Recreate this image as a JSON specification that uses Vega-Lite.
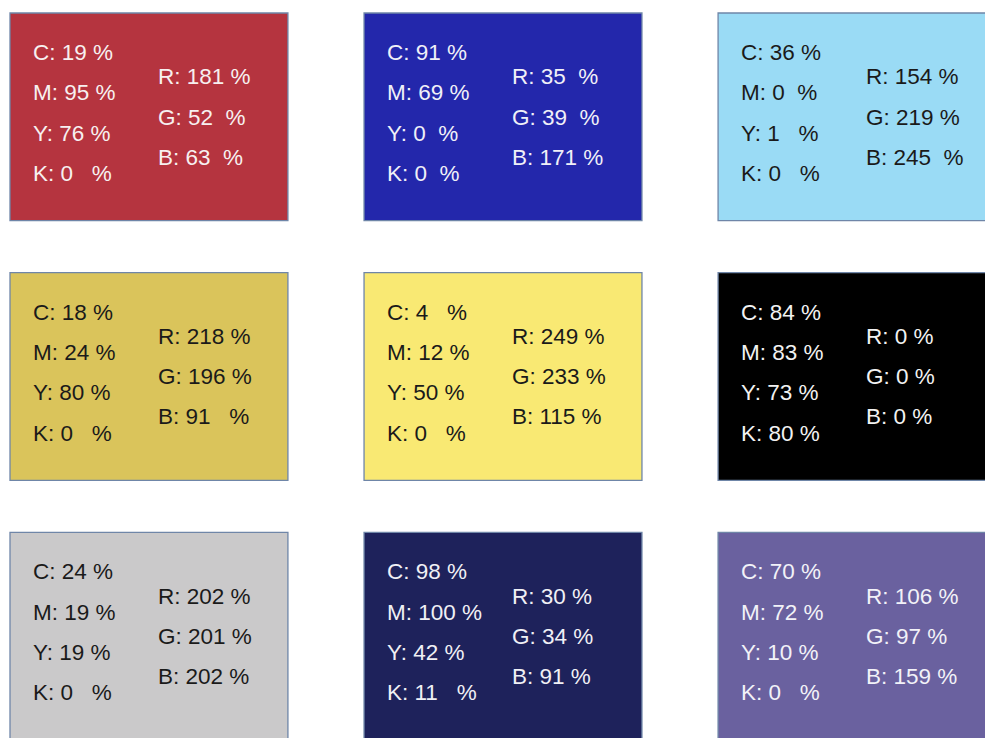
{
  "$schema": "https://vega.github.io/schema/vega-lite/v6.json",
  "width": 985,
  "height": 738,
  "padding": 0,
  "autosize": {"type": "none"},
  "background": "white",
  "config": {"view": {"stroke": null}},
  "datasets": {
    "boxes": [
      {"box": "Red", "col": 1, "row": 1},
      {"box": "Blue", "col": 2, "row": 1},
      {"box": "Light blue", "col": 3, "row": 1},
      {"box": "Gold", "col": 1, "row": 2},
      {"box": "Yellow", "col": 2, "row": 2},
      {"box": "Black", "col": 3, "row": 2},
      {"box": "Gray", "col": 1, "row": 3},
      {"box": "Navy", "col": 2, "row": 3},
      {"box": "Purple", "col": 3, "row": 3}
    ],
    "lines": [
      {"box": "Red", "col": 1, "row": 1, "model": "CMYK", "channel": "C", "label": "C: 19 %"},
      {"box": "Red", "col": 1, "row": 1, "model": "CMYK", "channel": "M", "label": "M: 95 %"},
      {"box": "Red", "col": 1, "row": 1, "model": "CMYK", "channel": "Y", "label": "Y: 76 %"},
      {"box": "Red", "col": 1, "row": 1, "model": "CMYK", "channel": "K", "label": "K: 0 \u00a0 %"},
      {"box": "Red", "col": 1, "row": 1, "model": "RGB", "channel": "R", "label": "R: 181 %"},
      {"box": "Red", "col": 1, "row": 1, "model": "RGB", "channel": "G", "label": "G: 52 \u00a0%"},
      {"box": "Red", "col": 1, "row": 1, "model": "RGB", "channel": "B", "label": "B: 63 \u00a0%"},

      {"box": "Blue", "col": 2, "row": 1, "model": "CMYK", "channel": "C", "label": "C: 91 %"},
      {"box": "Blue", "col": 2, "row": 1, "model": "CMYK", "channel": "M", "label": "M: 69 %"},
      {"box": "Blue", "col": 2, "row": 1, "model": "CMYK", "channel": "Y", "label": "Y: 0 \u00a0%"},
      {"box": "Blue", "col": 2, "row": 1, "model": "CMYK", "channel": "K", "label": "K: 0 \u00a0%"},
      {"box": "Blue", "col": 2, "row": 1, "model": "RGB", "channel": "R", "label": "R: 35 \u00a0%"},
      {"box": "Blue", "col": 2, "row": 1, "model": "RGB", "channel": "G", "label": "G: 39 \u00a0%"},
      {"box": "Blue", "col": 2, "row": 1, "model": "RGB", "channel": "B", "label": "B: 171 %"},

      {"box": "Light blue", "col": 3, "row": 1, "model": "CMYK", "channel": "C", "label": "C: 36 %"},
      {"box": "Light blue", "col": 3, "row": 1, "model": "CMYK", "channel": "M", "label": "M: 0 \u00a0%"},
      {"box": "Light blue", "col": 3, "row": 1, "model": "CMYK", "channel": "Y", "label": "Y: 1 \u00a0 %"},
      {"box": "Light blue", "col": 3, "row": 1, "model": "CMYK", "channel": "K", "label": "K: 0 \u00a0 %"},
      {"box": "Light blue", "col": 3, "row": 1, "model": "RGB", "channel": "R", "label": "R: 154 %"},
      {"box": "Light blue", "col": 3, "row": 1, "model": "RGB", "channel": "G", "label": "G: 219 %"},
      {"box": "Light blue", "col": 3, "row": 1, "model": "RGB", "channel": "B", "label": "B: 245 \u00a0%"},

      {"box": "Gold", "col": 1, "row": 2, "model": "CMYK", "channel": "C", "label": "C: 18 %"},
      {"box": "Gold", "col": 1, "row": 2, "model": "CMYK", "channel": "M", "label": "M: 24 %"},
      {"box": "Gold", "col": 1, "row": 2, "model": "CMYK", "channel": "Y", "label": "Y: 80 %"},
      {"box": "Gold", "col": 1, "row": 2, "model": "CMYK", "channel": "K", "label": "K: 0 \u00a0 %"},
      {"box": "Gold", "col": 1, "row": 2, "model": "RGB", "channel": "R", "label": "R: 218 %"},
      {"box": "Gold", "col": 1, "row": 2, "model": "RGB", "channel": "G", "label": "G: 196 %"},
      {"box": "Gold", "col": 1, "row": 2, "model": "RGB", "channel": "B", "label": "B: 91 \u00a0 %"},

      {"box": "Yellow", "col": 2, "row": 2, "model": "CMYK", "channel": "C", "label": "C: 4 \u00a0 %"},
      {"box": "Yellow", "col": 2, "row": 2, "model": "CMYK", "channel": "M", "label": "M: 12 %"},
      {"box": "Yellow", "col": 2, "row": 2, "model": "CMYK", "channel": "Y", "label": "Y: 50 %"},
      {"box": "Yellow", "col": 2, "row": 2, "model": "CMYK", "channel": "K", "label": "K: 0 \u00a0 %"},
      {"box": "Yellow", "col": 2, "row": 2, "model": "RGB", "channel": "R", "label": "R: 249 %"},
      {"box": "Yellow", "col": 2, "row": 2, "model": "RGB", "channel": "G", "label": "G: 233 %"},
      {"box": "Yellow", "col": 2, "row": 2, "model": "RGB", "channel": "B", "label": "B: 115 %"},

      {"box": "Black", "col": 3, "row": 2, "model": "CMYK", "channel": "C", "label": "C: 84 %"},
      {"box": "Black", "col": 3, "row": 2, "model": "CMYK", "channel": "M", "label": "M: 83 %"},
      {"box": "Black", "col": 3, "row": 2, "model": "CMYK", "channel": "Y", "label": "Y: 73 %"},
      {"box": "Black", "col": 3, "row": 2, "model": "CMYK", "channel": "K", "label": "K: 80 %"},
      {"box": "Black", "col": 3, "row": 2, "model": "RGB", "channel": "R", "label": "R: 0 %"},
      {"box": "Black", "col": 3, "row": 2, "model": "RGB", "channel": "G", "label": "G: 0 %"},
      {"box": "Black", "col": 3, "row": 2, "model": "RGB", "channel": "B", "label": "B: 0 %"},

      {"box": "Gray", "col": 1, "row": 3, "model": "CMYK", "channel": "C", "label": "C: 24 %"},
      {"box": "Gray", "col": 1, "row": 3, "model": "CMYK", "channel": "M", "label": "M: 19 %"},
      {"box": "Gray", "col": 1, "row": 3, "model": "CMYK", "channel": "Y", "label": "Y: 19 %"},
      {"box": "Gray", "col": 1, "row": 3, "model": "CMYK", "channel": "K", "label": "K: 0 \u00a0 %"},
      {"box": "Gray", "col": 1, "row": 3, "model": "RGB", "channel": "R", "label": "R: 202 %"},
      {"box": "Gray", "col": 1, "row": 3, "model": "RGB", "channel": "G", "label": "G: 201 %"},
      {"box": "Gray", "col": 1, "row": 3, "model": "RGB", "channel": "B", "label": "B: 202 %"},

      {"box": "Navy", "col": 2, "row": 3, "model": "CMYK", "channel": "C", "label": "C: 98 %"},
      {"box": "Navy", "col": 2, "row": 3, "model": "CMYK", "channel": "M", "label": "M: 100 %"},
      {"box": "Navy", "col": 2, "row": 3, "model": "CMYK", "channel": "Y", "label": "Y: 42 %"},
      {"box": "Navy", "col": 2, "row": 3, "model": "CMYK", "channel": "K", "label": "K: 11 \u00a0 %"},
      {"box": "Navy", "col": 2, "row": 3, "model": "RGB", "channel": "R", "label": "R: 30 %"},
      {"box": "Navy", "col": 2, "row": 3, "model": "RGB", "channel": "G", "label": "G: 34 %"},
      {"box": "Navy", "col": 2, "row": 3, "model": "RGB", "channel": "B", "label": "B: 91 %"},

      {"box": "Purple", "col": 3, "row": 3, "model": "CMYK", "channel": "C", "label": "C: 70 %"},
      {"box": "Purple", "col": 3, "row": 3, "model": "CMYK", "channel": "M", "label": "M: 72 %"},
      {"box": "Purple", "col": 3, "row": 3, "model": "CMYK", "channel": "Y", "label": "Y: 10 %"},
      {"box": "Purple", "col": 3, "row": 3, "model": "CMYK", "channel": "K", "label": "K: 0 \u00a0 %"},
      {"box": "Purple", "col": 3, "row": 3, "model": "RGB", "channel": "R", "label": "R: 106 %"},
      {"box": "Purple", "col": 3, "row": 3, "model": "RGB", "channel": "G", "label": "G: 97 %"},
      {"box": "Purple", "col": 3, "row": 3, "model": "RGB", "channel": "B", "label": "B: 159 %"}
    ]
  },
  "layer": [
    {
      "data": {"name": "boxes"},
      "mark": {"type": "rect", "stroke": "#6f86a8", "strokeWidth": 1.3},
      "encoding": {
        "x": {"field": "col", "type": "ordinal", "axis": null,
              "scale": {"type": "band", "domain": [1, 2, 3], "range": [10, 996], "paddingInner": 0.215, "paddingOuter": 0}},
        "y": {"field": "row", "type": "ordinal", "axis": null,
              "scale": {"type": "band", "domain": [1, 2, 3], "range": [13, 740], "paddingInner": 0.2, "paddingOuter": 0}},
        "fill": {"field": "box", "type": "nominal", "legend": null,
                 "scale": {"domain": ["Red", "Blue", "Light blue", "Gold", "Yellow", "Black", "Gray", "Navy", "Purple"],
                           "range": ["#b5343f", "#2327ab", "#9adbf5", "#dac45b", "#f9e973", "#000000", "#cac9ca", "#1e225b", "#6a619f"]}}
      }
    },
    {
      "data": {"name": "lines"},
      "transform": [{"filter": "datum.model === 'CMYK'"}],
      "mark": {"type": "text", "align": "left", "baseline": "alphabetic", "font": "Liberation Sans", "fontSize": 22.5, "dx": -53.5},
      "encoding": {
        "x": {"field": "col", "type": "ordinal", "axis": null},
        "y": {"field": "row", "type": "ordinal", "axis": null},
        "xOffset": {"field": "model", "type": "nominal",
                    "scale": {"type": "band", "domain": ["CMYK", "RGB"], "paddingInner": 0, "paddingOuter": 0.112}},
        "yOffset": {"field": "channel", "type": "nominal",
                    "scale": {"type": "band", "domain": ["C", "R", "M", "G", "Y", "B", "K"], "range": [37, 178], "paddingInner": 0, "paddingOuter": 0}},
        "text": {"field": "label", "type": "nominal"},
        "fill": {"field": "box", "type": "nominal", "legend": null,
                 "scale": {"domain": ["Red", "Blue", "Light blue", "Gold", "Yellow", "Black", "Gray", "Navy", "Purple"],
                           "range": ["#f7f0f0", "#f0f0f8", "#1a1a1a", "#1a1a1a", "#1a1a1a", "#f2f2f2", "#1a1a1a", "#f0f0f5", "#f2f2f8"]}}
      }
    },
    {
      "data": {"name": "lines"},
      "transform": [{"filter": "datum.model === 'RGB'"}],
      "mark": {"type": "text", "align": "left", "baseline": "alphabetic", "font": "Liberation Sans", "fontSize": 22.5, "dx": -53.5, "dy": 4},
      "encoding": {
        "x": {"field": "col", "type": "ordinal", "axis": null},
        "y": {"field": "row", "type": "ordinal", "axis": null},
        "xOffset": {"field": "model", "type": "nominal"},
        "yOffset": {"field": "channel", "type": "nominal"},
        "text": {"field": "label", "type": "nominal"},
        "fill": {"field": "box", "type": "nominal", "legend": null,
                 "scale": {"domain": ["Red", "Blue", "Light blue", "Gold", "Yellow", "Black", "Gray", "Navy", "Purple"],
                           "range": ["#f7f0f0", "#f0f0f8", "#1a1a1a", "#1a1a1a", "#1a1a1a", "#f2f2f2", "#1a1a1a", "#f0f0f5", "#f2f2f8"]}}
      }
    }
  ],
  "resolve": {"scale": {"fill": "independent"}}
}
